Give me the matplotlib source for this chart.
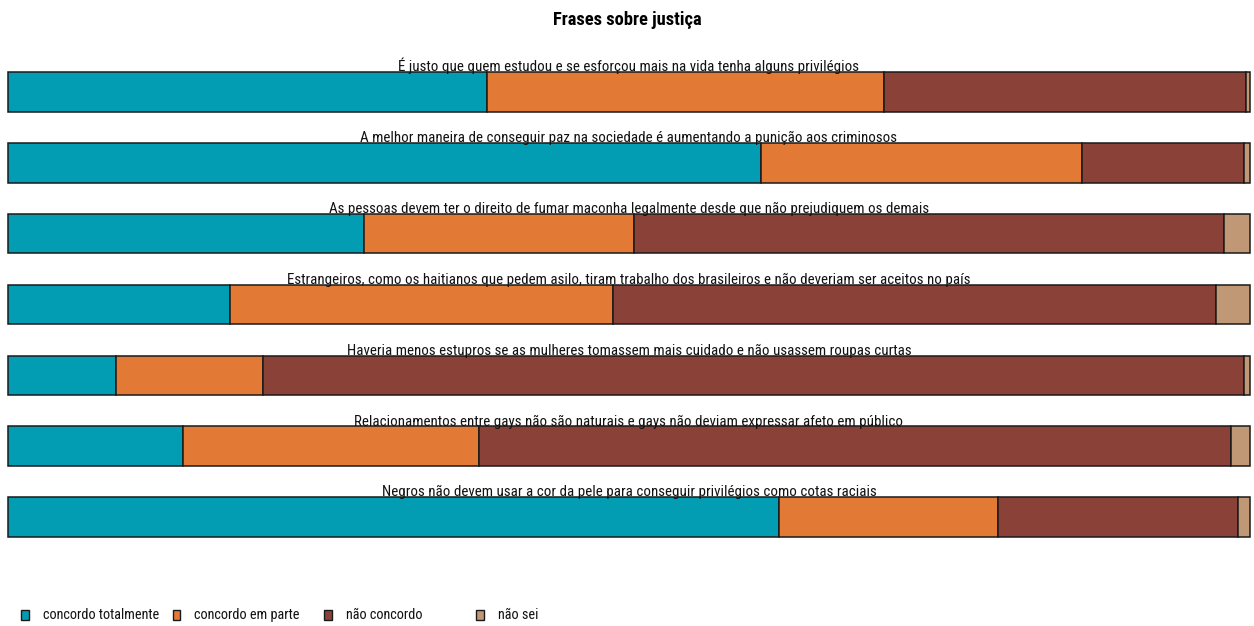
import matplotlib
matplotlib.use("Agg")
import matplotlib.pyplot as plt
from matplotlib.patches import Rectangle
from matplotlib import font_manager

names = {f.name for f in font_manager.fontManager.ttflist}
prefs = ['Arial Narrow', 'Liberation Sans Narrow', 'Roboto Condensed', 'PT Sans Narrow', 'Archivo Narrow', 'Liberation Sans']
fam = [p for p in prefs if p in names][:1] + ['DejaVu Sans']
plt.rcParams['font.family'] = fam

frases = [
    "É justo que quem estudou e se esforçou mais na vida tenha alguns privilégios",
    "A melhor maneira de conseguir paz na sociedade é aumentando a punição aos criminosos",
    "As pessoas devem ter o direito de fumar maconha legalmente desde que não prejudiquem os demais",
    "Estrangeiros, como os haitianos que pedem asilo, tiram trabalho dos brasileiros e não deveriam ser aceitos no país",
    "Haveria menos estupros se as mulheres tomassem mais cuidado e não usassem roupas curtas",
    "Relacionamentos entre gays não são naturais e gays não deviam expressar afeto em público",
    "Negros não devem usar a cor da pele para conseguir privilégios como cotas raciais",
]
categorias = ["concordo totalmente", "concordo em parte", "não concordo", "não sei"]
concordo_totalmente = [38.6, 60.6, 28.7, 17.9, 8.7, 14.1, 62.1]
concordo_em_parte = [31.9, 25.9, 21.7, 30.8, 11.8, 23.8, 17.6]
nao_concordo = [29.2, 13.0, 47.5, 48.6, 79.0, 60.6, 19.3]
nao_sei = [0.3, 0.5, 2.1, 2.7, 0.5, 1.5, 1.0]
cores = ["#039DB3", "#E27A36", "#8A4138", "#C09876"]

series = [concordo_totalmente, concordo_em_parte, nao_concordo, nao_sei]

fig = plt.figure(figsize=(12.54, 6.26), dpi=100)
ax = fig.add_axes([8/1254, 1-537/626, 1242/1254, (537-72)/626])
h = 0.56
ys = list(range(len(frases)))
left = [0.0]*len(frases)
for vals, c in zip(series, cores):
    bars = ax.barh(ys, vals, left=left, height=h, color=c, edgecolor='#1a1a1a', linewidth=1.1)
    for b in bars:
        b.set_clip_on(False)
    left = [l+v for l, v in zip(left, vals)]
ax.set_xlim(0, 100)
ax.set_ylim(len(frases)-1+h/2, -h/2)
ax.axis('off')
for y, t in zip(ys, frases):
    ax.text(50, y - h/2 - 0.012, t, ha='center', va='baseline', fontsize=10.8, color='#111111', zorder=5)

fig.text(0.5, 1-20/626, "Frases sobre justiça", ha='center', va='center', fontsize=13.3, fontweight='bold')

for i, (cat, c) in enumerate(zip(categorias, cores)):
    x0 = 21 + i*151.5
    fig.patches.append(Rectangle((x0/1254, 1-620/626), 8/1254, 10/626, transform=fig.transFigure,
                                 facecolor=c, edgecolor='#1a1a1a', linewidth=1.0))
    fig.text((x0+22)/1254, 1-615/626, cat, ha='left', va='center', fontsize=10.3, color='#111111')

fig.savefig("out.png", dpi=100)
